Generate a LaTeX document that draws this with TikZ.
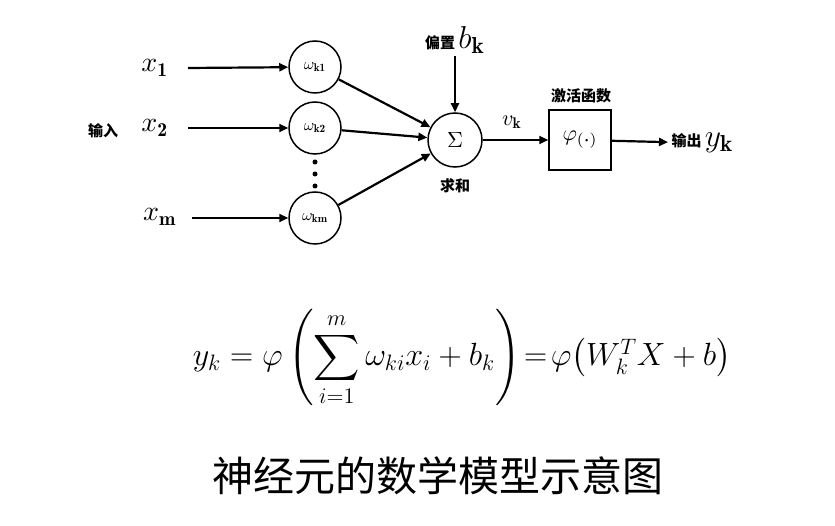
\documentclass[tikz,border=0pt]{standalone}
\usepackage{amsmath}
\usepackage{fontspec}
\newfontfamily\cjk{Noto Sans CJK SC}
\newcommand\cjkb{\cjk\bfseries}
\usetikzlibrary{arrows.meta}
\begin{document}
\begin{tikzpicture}[x=1pt,y=-1pt,
  arr/.style={line width=2.2pt,-{Triangle[length=9pt,width=8pt]}},
  wc/.style={draw,line width=1.5pt,circle,minimum size=52pt,inner sep=0pt},
  lbl/.style={font=\cjkb\fontsize{15}{18}\selectfont}]
\useasboundingbox (0,0) rectangle (835,526);
\node (x1) at (155,68) {\scalebox{2.8}{$x_{\mathbf{1}}$}};
\node (x2) at (155,128) {\scalebox{2.8}{$x_{\mathbf{2}}$}};
\node (xm) at (160,217) {\scalebox{2.8}{$x_{\mathbf{m}}$}};
\node[lbl] (in) at (103,131) {输入};
\node[wc] (w1) at (315,67) {\scalebox{1.6}{$\omega_{\mathbf{k1}}$}};
\node[wc] (w2) at (315,128) {\scalebox{1.6}{$\omega_{\mathbf{k2}}$}};
\node[wc] (wm) at (315,218) {\scalebox{1.6}{$\omega_{\mathbf{km}}$}};
\foreach \y in {162,174,186} \fill (315,\y) circle (2.5pt);
\node[draw,circle,line width=1.5pt,minimum size=54pt,inner sep=0pt] (s) at (455,140) {\scalebox{2.2}{$\Sigma$}};
\node[lbl] (sum) at (455,186) {求和};
\node[lbl] (b) at (455,40) {偏置 \scalebox{2.2}{$b_{\mathbf{k}}$}};
\node[draw,line width=1.5pt,minimum width=62pt,minimum height=60pt] (f) at (580,140) {\scalebox{2.2}{$\varphi_{(\boldsymbol{\cdot})}$}};
\node[lbl] (act) at (581,96) {激活函数};
\node[lbl,anchor=west] (y) at (668,143) {输出 \scalebox{2.2}{$y_{\mathbf{k}}$}};
\node (v) at (512,122) {\scalebox{2.2}{$v_{\mathbf{k}}$}};
\draw[arr] (188,68) -- (w1);
\draw[arr] (188,128) -- (w2);
\draw[arr] (192,218) -- (wm);
\draw[arr] (w1) -- (s);
\draw[arr] (w2) -- (s);
\draw[arr] (wm) -- (s);
\draw[arr] (455,56) -- (s);
\draw[arr] (s) -- (f);
\draw[arr] (f) -- (y);
\node (eq) at (462,358) {\scalebox{1.55}{\fontsize{20}{24}\selectfont$y_k=\varphi\left(\displaystyle\sum_{i=1}^{m}\omega_{ki}x_i+b_k\right)\!=\!\varphi\big(W_k^TX+b\big)$}};
\node[font=\cjk\fontsize{41}{46}\selectfont] (cap) at (438,476) {神经元的数学模型示意图};
\end{tikzpicture}
\end{document}
